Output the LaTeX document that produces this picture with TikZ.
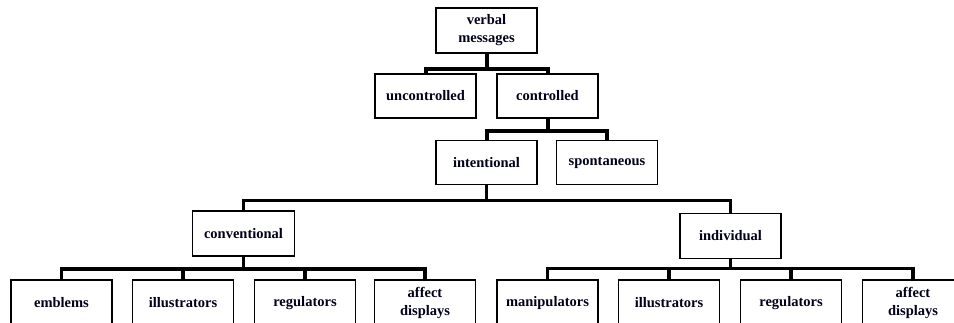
\documentclass[tikz,border=0pt]{standalone}
\usepackage{fontspec}
\setmainfont{Liberation Serif}
\begin{document}
\begin{tikzpicture}[x=1pt,y=-1pt,
  box/.style={draw=black,line width=1.5pt,fill=white,inner sep=0pt,
    minimum width=101pt,minimum height=44pt,align=center,
    font=\fontsize{14.5}{18}\selectfont\bfseries,text=black!90!blue},
  bus/.style={draw=black,line width=4pt,line join=miter},
  busmid/.style={draw=black,line width=2.5pt,line join=miter},
  buslow/.style={draw=black,line width=3.5pt,line join=miter}]
\useasboundingbox (0,0) rectangle (954,323);
\fill[white] (0,0) rectangle (954,323);
% nodes
\node[box,minimum height=45pt] (vm) at (486.5,30.5) {verbal\\messages};
\node[box] (unc) at (425.5,96) {uncontrolled};
\node[box] (con) at (547.5,96) {controlled};
\node[box] (int) at (486.5,162.5) {intentional};
\node[box] (spo) at (607,162.5) {spontaneous};
\node[box,minimum width=102pt,minimum height=45pt] (conv) at (243.5,233.5) {conventional};
\node[box,minimum height=45pt] (ind) at (730.5,236) {individual};
\node[box,minimum height=46pt] (emb) at (61.5,303) {emblems};
\node[box,minimum height=46pt] (ill1) at (183,303) {illustrators};
\node[box,minimum height=46pt] (reg1) at (305,303) {regulators};
\node[box,minimum height=46pt] (aff1) at (425,303) {affect\\displays};
\node[box,minimum height=46pt] (man) at (547.5,303) {manipulators};
\node[box,minimum height=46pt] (ill2) at (669,303) {illustrators};
\node[box,minimum height=46pt] (reg2) at (791,303) {regulators};
\node[box,minimum height=46pt] (aff2) at (913,303) {affect\\displays};
% tree connectors
\draw[bus] (vm.south) -- ++(0,15) -| (unc.north);
\draw[bus] (vm.south) -- ++(0,15) -| (con.north);
\draw[bus] (con.south) -- ++(0,12) -| (int.north);
\draw[bus] (con.south) -- ++(0,12) -| (spo.north);
\draw[busmid] (int.south) -- ++(0,15.5) -| (conv.north);
\draw[busmid] (int.south) -- ++(0,15.5) -| (ind.north);
\foreach \c in {emb,ill1,reg1,aff1}
  \draw[buslow] (conv.south) -- ++(0,12.5) -| (\c.north);
\foreach \c in {man,ill2,reg2,aff2}
  \draw[buslow] (ind.south) -- ++(0,9.5) -| (\c.north);
\end{tikzpicture}
\end{document}
